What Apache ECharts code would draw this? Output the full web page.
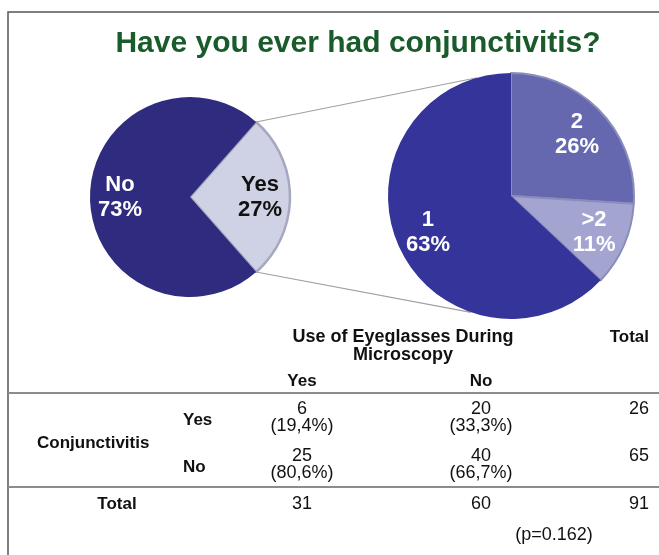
<!DOCTYPE html>
<html>
<head>
<meta charset="utf-8">
<script src="https://cdn.jsdelivr.net/npm/echarts@6/dist/echarts.min.js"></script>
<style>
  html, body { margin: 0; padding: 0; background: #fff; }
  #chart { width: 659px; height: 555px; }
</style>
</head>
<body>
<div id="chart"></div>
<script>
// Survey answers: ever had conjunctivitis (share, %)
const conjLabels = ['Yes', 'No'];
const conjShares = [27, 73];

// Breakdown of the "Yes" answers by number of episodes (share, %)
const episodeLabels = ['2', '>2', '1'];
const episodeShares = [26, 11, 63];

// Cross-table: conjunctivitis (rows) by use of eyeglasses during microscopy (columns)
const rowLabels = ['Yes', 'No'];
const colLabels = ['Yes', 'No'];
const glassesYesCounts = [6, 25];
const glassesNoCounts = [20, 40];
const rowTotals = [26, 65];
const colTotals = [31, 60, 91];
const pText = '(p=0.162)';

const FONT = "'Liberation Sans', Arial, sans-serif";

const chart = echarts.init(document.getElementById('chart'), null, { renderer: 'canvas' });

// pie geometry
const leftCenter = [190, 197], leftR = 100;
const rightCenter = [511, 196], rightR = 123;
const leftStart = conjShares[0] / 100 * 180;   // "Yes" slice centred on the right side

const leftColors = { 'Yes': '#cfd1e4', 'No': '#2f2b7e' };
const leftLabelColors = { 'Yes': '#111111', 'No': '#ffffff' };
const rightColors = { '2': '#6568ae', '>2': '#a3a5d0', '1': '#35349a' };

const leftData = conjLabels.map((n, i) => ({
  name: n, value: conjShares[i],
  itemStyle: n === 'Yes'
    ? { color: leftColors[n], borderColor: '#a6a8bf', borderWidth: 2.5 }
    : { color: leftColors[n], borderWidth: 0 }
}));
const leftLabelData = conjLabels.map((n, i) => ({
  name: n, value: conjShares[i],
  label: { color: leftLabelColors[n] }
}));
const rightData = episodeLabels.map((n, i) => ({
  name: n, value: episodeShares[i],
  itemStyle: n === '1'
    ? { color: rightColors[n], borderWidth: 0 }
    : { color: rightColors[n], borderColor: '#8a8cbb', borderWidth: 2 }
}));
const rightLabelData = episodeLabels.map((n, i) => ({ name: n, value: episodeShares[i] }));

const labelStyle = {
  show: true, position: 'inside', formatter: '{b}\n{c}%',
  fontFamily: FONT, fontWeight: 'bold', fontSize: 22, lineHeight: 25, color: '#ffffff'
};
const overlayItem = { color: 'rgba(0,0,0,0)', borderWidth: 0 };

// connector lines from the "Yes" slice edges to the second pie
const rad = Math.PI / 180;
const yesHalf = leftStart * rad;
const pA = [leftCenter[0] + leftR * Math.cos(yesHalf), leftCenter[1] - leftR * Math.sin(yesHalf)];
const pB = [leftCenter[0] + leftR * Math.cos(yesHalf), leftCenter[1] + leftR * Math.sin(yesHalf)];
const qA = [rightCenter[0] + rightR * Math.cos(106 * rad), rightCenter[1] - rightR * Math.sin(106 * rad)];
const qB = [rightCenter[0] + rightR * Math.cos(109 * rad), rightCenter[1] + rightR * Math.sin(109 * rad)];

function txt(text, x, y, opts) {
  opts = opts || {};
  return {
    type: 'text', silent: true, z: 10,
    style: {
      text: text, x: x, y: y,
      font: (opts.bold ? 'bold ' : '') + (opts.size || 17) + 'px ' + FONT,
      fill: opts.color || '#111111',
      textAlign: opts.align || 'center',
      textVerticalAlign: 'middle'
    }
  };
}
function hline(y) {
  return {
    type: 'line', silent: true,
    shape: { x1: 8, y1: y, x2: 659, y2: y },
    style: { stroke: '#8c8c8c', lineWidth: 2 }
  };
}
function pct(v, tot) {
  return '(' + (v / tot * 100).toFixed(1).replace('.', ',') + '%)';
}

const colX = [302, 481];
const totalX = 649;
const rowY = [409, 456];
const graphics = [
  { type: 'rect', silent: true, shape: { x: 8, y: 12, width: 720, height: 620 },
    style: { fill: 'transparent', stroke: '#555555', lineWidth: 1.5 } },
  txt('Have you ever had conjunctivitis?', 358, 44, { bold: true, size: 30, color: '#1a5b2b' }),
  { type: 'line', silent: true, shape: { x1: pA[0], y1: pA[1], x2: qA[0], y2: qA[1] },
    style: { stroke: '#a0a0a0', lineWidth: 1.2 } },
  { type: 'line', silent: true, shape: { x1: pB[0], y1: pB[1], x2: qB[0], y2: qB[1] },
    style: { stroke: '#a0a0a0', lineWidth: 1.2 } },
  txt('Use of Eyeglasses During', 403, 337, { bold: true, size: 18 }),
  txt('Microscopy', 403, 355, { bold: true, size: 18 }),
  txt('Total', totalX, 337, { bold: true, align: 'right' }),
  txt(colLabels[0], colX[0], 381, { bold: true }),
  txt(colLabels[1], colX[1], 381, { bold: true }),
  hline(393),
  txt('Conjunctivitis', 37, 443, { bold: true, align: 'left' }),
  hline(487),
  txt('Total', 117, 504, { bold: true }),
  txt(pText, 554, 535, { size: 18 })
];
rowLabels.forEach((r, i) => {
  graphics.push(txt(r, 183, rowY[i] + 11, { bold: true, align: 'left' }));
  graphics.push(txt(String(glassesYesCounts[i]), colX[0], rowY[i], { size: 18 }));
  graphics.push(txt(pct(glassesYesCounts[i], colTotals[0]), colX[0], rowY[i] + 17, { size: 18 }));
  graphics.push(txt(String(glassesNoCounts[i]), colX[1], rowY[i], { size: 18 }));
  graphics.push(txt(pct(glassesNoCounts[i], colTotals[1]), colX[1], rowY[i] + 17, { size: 18 }));
  graphics.push(txt(String(rowTotals[i]), totalX, rowY[i], { size: 18, align: 'right' }));
});
graphics.push(txt(String(colTotals[0]), colX[0], 504, { size: 18 }));
graphics.push(txt(String(colTotals[1]), colX[1], 504, { size: 18 }));
graphics.push(txt(String(colTotals[2]), totalX, 504, { size: 18, align: 'right' }));

chart.setOption({
  animation: false,
  backgroundColor: '#ffffff',
  series: [
    { type: 'pie', center: leftCenter, radius: [0, leftR], startAngle: leftStart, clockwise: true,
      silent: true, label: { show: false }, labelLine: { show: false }, data: leftData },
    { type: 'pie', center: leftCenter, radius: [34, leftR], startAngle: leftStart, clockwise: true,
      silent: true, itemStyle: overlayItem, label: labelStyle, labelLine: { show: false },
      data: leftLabelData, z: 3 },
    { type: 'pie', center: rightCenter, radius: [0, rightR], startAngle: 90, clockwise: true,
      silent: true, label: { show: false }, labelLine: { show: false }, data: rightData },
    { type: 'pie', center: rightCenter, radius: [52, rightR], startAngle: 90, clockwise: true,
      silent: true, itemStyle: overlayItem, label: labelStyle, labelLine: { show: false },
      data: rightLabelData, z: 3 }
  ],
  graphic: graphics
});
</script>
</body>
</html>
